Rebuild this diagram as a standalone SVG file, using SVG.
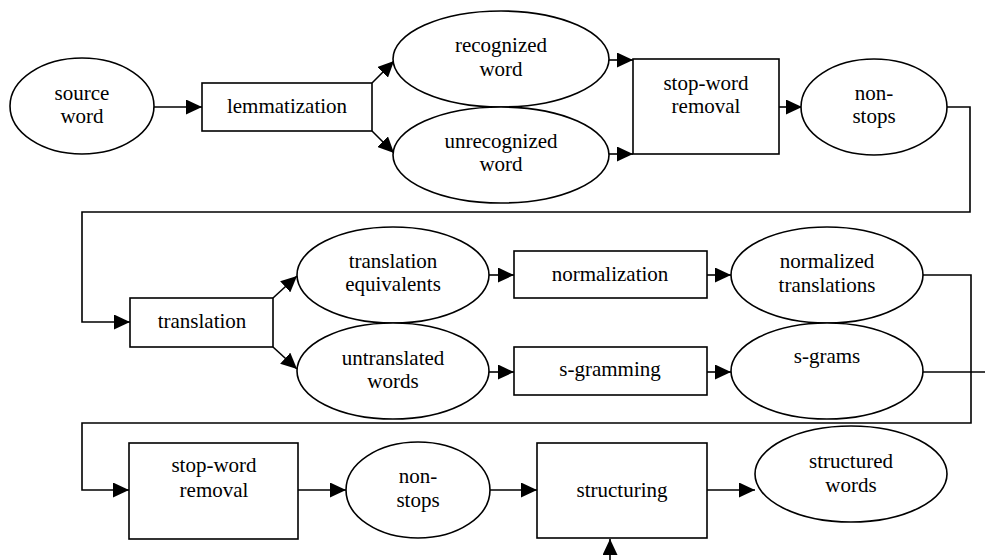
<svg xmlns="http://www.w3.org/2000/svg" width="985" height="560" viewBox="0 0 985 560">
  <style>
    .shape { fill: #ffffff; stroke: #000000; stroke-width: 1.6; }
    .label { font-family: "Liberation Serif", "Times New Roman", serif; font-size: 21px; fill: #000000; text-anchor: middle; }
    .edge { fill: none; stroke: #000000; stroke-width: 1.6; }
    .arrow { marker-end: url(#head); }
  </style>
  <defs>
    <marker id="head" markerUnits="userSpaceOnUse" markerWidth="16" markerHeight="15" refX="16" refY="7.5" orient="auto">
      <path d="M0,0 L16,7.5 L0,15 z" fill="#000000"/>
    </marker>
  </defs>
  <rect width="985" height="560" fill="#ffffff"/>

  <!-- connectors -->
  <g id="connectors">
    <path class="edge arrow" d="M154,107 H202"/>
    <path class="edge arrow" d="M372,83 L394,61"/>
    <path class="edge arrow" d="M372,131 L394,153"/>
    <path class="edge arrow" d="M609,60 H633"/>
    <path class="edge arrow" d="M609,154 H633"/>
    <path class="edge arrow" d="M779,107 H802"/>
    <path class="edge arrow" d="M947,107 H970 V212 H82 V322 H130"/>
    <path class="edge arrow" d="M273,298 L297,276"/>
    <path class="edge arrow" d="M273,347 L297,369"/>
    <path class="edge arrow" d="M489,275 H514"/>
    <path class="edge arrow" d="M707,275 H731"/>
    <path class="edge arrow" d="M489,372 H514"/>
    <path class="edge arrow" d="M707,372 H731"/>
    <path class="edge arrow" d="M923,275 H971 V423 H82 V490 H129"/>
    <path class="edge" d="M923,372 H985"/>
    <path class="edge arrow" d="M298,490 H346"/>
    <path class="edge arrow" d="M490,490 H537"/>
    <path class="edge arrow" d="M707,490 H755"/>
    <path class="edge arrow" d="M610,560 V539"/>
  </g>

  <g id="nodes">
    <!-- first row -->
    <g id="source-word">
      <ellipse class="shape" cx="82" cy="106" rx="72" ry="48"/>
      <text class="label" x="82" y="100">source</text>
      <text class="label" x="82" y="123">word</text>
    </g>
    <g id="lemmatization">
      <rect class="shape" x="202" y="83" width="170" height="48"/>
      <text class="label" x="287" y="113">lemmatization</text>
    </g>
    <g id="recognized-word">
      <ellipse class="shape" cx="501" cy="59" rx="108" ry="48"/>
      <text class="label" x="501" y="52">recognized</text>
      <text class="label" x="501" y="76">word</text>
    </g>
    <g id="unrecognized-word">
      <ellipse class="shape" cx="501" cy="155" rx="108" ry="48"/>
      <text class="label" x="501" y="148">unrecognized</text>
      <text class="label" x="501" y="171">word</text>
    </g>
    <g id="stop-word-removal-1">
      <rect class="shape" x="633" y="59" width="146" height="95"/>
      <text class="label" x="706" y="90">stop-word</text>
      <text class="label" x="706" y="113">removal</text>
    </g>
    <g id="non-stops-1">
      <ellipse class="shape" cx="874" cy="107" rx="73" ry="48"/>
      <text class="label" x="874" y="100">non-</text>
      <text class="label" x="874" y="123">stops</text>
    </g>

    <!-- second row -->
    <g id="translation">
      <rect class="shape" x="130" y="298" width="143" height="49"/>
      <text class="label" x="202" y="328">translation</text>
    </g>
    <g id="translation-equivalents">
      <ellipse class="shape" cx="393" cy="275" rx="96" ry="48"/>
      <text class="label" x="393" y="268">translation</text>
      <text class="label" x="393" y="291">equivalents</text>
    </g>
    <g id="normalization">
      <rect class="shape" x="514" y="251" width="193" height="47"/>
      <text class="label" x="610" y="281">normalization</text>
    </g>
    <g id="normalized-translations">
      <ellipse class="shape" cx="827" cy="275" rx="96" ry="48"/>
      <text class="label" x="827" y="268">normalized</text>
      <text class="label" x="827" y="292">translations</text>
    </g>
    <g id="untranslated-words">
      <ellipse class="shape" cx="393" cy="371" rx="96" ry="48"/>
      <text class="label" x="393" y="365">untranslated</text>
      <text class="label" x="393" y="388">words</text>
    </g>
    <g id="s-gramming">
      <rect class="shape" x="514" y="347" width="193" height="48"/>
      <text class="label" x="610" y="376">s-gramming</text>
    </g>
    <g id="s-grams">
      <ellipse class="shape" cx="827" cy="371" rx="96" ry="48"/>
      <text class="label" x="827" y="363">s-grams</text>
    </g>

    <!-- third row -->
    <g id="stop-word-removal-2">
      <rect class="shape" x="129" y="443" width="169" height="96"/>
      <text class="label" x="214" y="472">stop-word</text>
      <text class="label" x="214" y="497">removal</text>
    </g>
    <g id="non-stops-2">
      <ellipse class="shape" cx="418" cy="490" rx="72" ry="48"/>
      <text class="label" x="418" y="483">non-</text>
      <text class="label" x="418" y="507">stops</text>
    </g>
    <g id="structuring">
      <rect class="shape" x="537" y="443" width="170" height="95"/>
      <text class="label" x="622" y="497">structuring</text>
    </g>
    <g id="structured-words">
      <ellipse class="shape" cx="851" cy="474" rx="96" ry="48"/>
      <text class="label" x="851" y="468">structured</text>
      <text class="label" x="851" y="492">words</text>
    </g>
  </g>
</svg>
